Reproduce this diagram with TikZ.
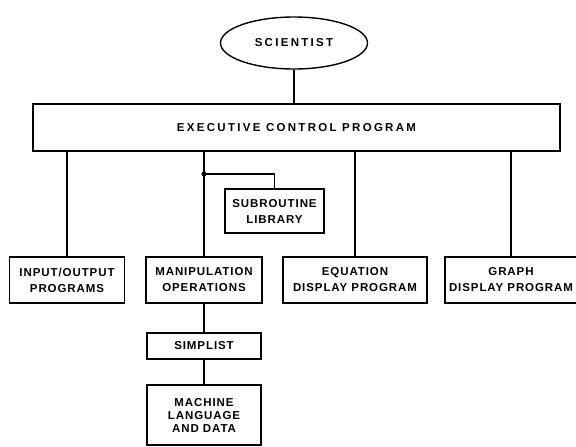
\documentclass[tikz,border=0pt]{standalone}
\usepackage{fontspec}
\usetikzlibrary{shapes.geometric}
\newfontfamily\lblfont{Liberation Sans}[LetterSpace=8]
\newfontfamily\widefont{Liberation Sans}[LetterSpace=20]
\begin{document}
\begin{tikzpicture}[x=1pt,y=-1pt,
  txt/.style={font=\lblfont\bfseries\fontsize{11.5}{16}\selectfont, align=center},
  box/.style={txt, draw, line width=1.4pt, inner sep=0pt},
  conn/.style={line width=1.2pt}]
\useasboundingbox (0,0) rectangle (576,447);
\clip (0,0) rectangle (576,447);
\fill[white] (0,0) rectangle (576,447);
\node[txt, draw, ellipse, line width=1.4pt, minimum width=147, minimum height=52, inner sep=0pt, font=\widefont\bfseries\fontsize{11.5}{16}\selectfont] (sci) at (294,43) {SCIENTIST};
\node[box, minimum width=527, minimum height=47, font=\widefont\bfseries\fontsize{11.5}{16}\selectfont] (exec) at (296.5,127.5) {EXECUTIVE CONTROL PROGRAM};
\node[box, minimum width=115, minimum height=46] (io) at (67,280) {INPUT/OUTPUT\\PROGRAMS};
\node[box, minimum width=116, minimum height=46] (manip) at (204,280) {MANIPULATION\\OPERATIONS};
\node[box, minimum width=144, minimum height=46] (eq) at (355,280) {EQUATION\\DISPLAY PROGRAM};
\node[box, minimum width=132, minimum height=46] (graph) at (511,280) {GRAPH\\DISPLAY PROGRAM};
\node[box, minimum width=99, minimum height=44] (sub) at (274.5,211) {SUBROUTINE\\LIBRARY};
\node[box, minimum width=114, minimum height=26] (simp) at (204,346) {SIMPLIST};
\node[box, minimum width=114, minimum height=60, font=\lblfont\bfseries\fontsize{11.5}{13}\selectfont] (mach) at (204,415) {MACHINE\\LANGUAGE\\AND DATA};
\coordinate (j) at (204,174);
\draw[conn] (sci.south) -- (exec.north -| sci.south);
\draw[conn] (io.north) -- (io.north |- exec.south);
\draw[conn] (manip.north) -- (manip.north |- exec.south);
\draw[conn] (eq.north) -- (eq.north |- exec.south);
\draw[conn] (graph.north) -- (graph.north |- exec.south);
\fill (j) circle (2.6);
\draw[conn] (j) -| (sub.north);
\draw[conn] (manip.south) -- (simp.north);
\draw[conn] (simp.south) -- (mach.north);
\end{tikzpicture}
\end{document}
